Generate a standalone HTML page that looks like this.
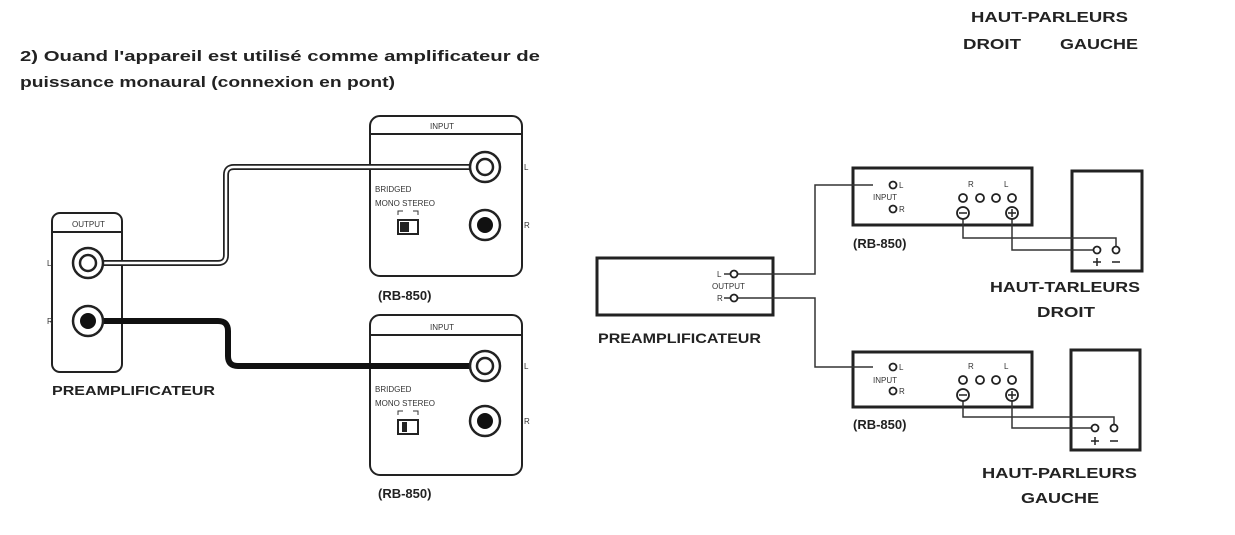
<!DOCTYPE html>
<html><head><meta charset="utf-8"><style>
html,body{margin:0;padding:0;background:#fff;}
svg{display:block;font-family:"Liberation Sans",sans-serif;}
.b{font-weight:bold;fill:#222;}
.s{font-size:8px;fill:#333;}
</style></head><body>
<svg width="1235" height="535" viewBox="0 0 1235 535" xmlns="http://www.w3.org/2000/svg">
<rect width="1235" height="535" fill="#fff"/>
<!-- heading -->
<text class="b" x="20" y="61" font-size="15" textLength="520" lengthAdjust="spacingAndGlyphs">2) Ouand l'appareil est utilisé  comme  amplificateur  de</text>
<text class="b" x="20" y="87" font-size="15" textLength="375" lengthAdjust="spacingAndGlyphs">puissance monaural (connexion en pont)</text>
<text class="b" x="971" y="22" font-size="15" textLength="157" lengthAdjust="spacingAndGlyphs">HAUT-PARLEURS</text>
<text class="b" x="963" y="49" font-size="15" textLength="58" lengthAdjust="spacingAndGlyphs">DROIT</text>
<text class="b" x="1060" y="49" font-size="15" textLength="78" lengthAdjust="spacingAndGlyphs">GAUCHE</text>

<g fill="none" stroke="#222" stroke-width="2">
<!-- left preamp -->
<rect x="52" y="213" width="70" height="159" rx="8"/>
<line x1="52" y1="232" x2="122" y2="232"/>
<!-- amp1 -->
<rect x="370" y="116" width="152" height="160" rx="10"/>
<line x1="370" y1="134" x2="522" y2="134"/>
<!-- amp2 -->
<rect x="370" y="315" width="152" height="160" rx="10"/>
<line x1="370" y1="335" x2="522" y2="335"/>
</g>
<!-- white cable -->
<path d="M88 263 H218 Q226 263 226 255 V175 Q226 167 234 167 H485" fill="none" stroke="#222" stroke-width="6"/>
<path d="M88 263 H218 Q226 263 226 255 V175 Q226 167 234 167 H485" fill="none" stroke="#fff" stroke-width="2.5"/>
<!-- black cable -->
<path d="M88 321 H218 Q228 321 228 331 V356 Q228 366 238 366 H485" fill="none" stroke="#111" stroke-width="6"/>
<!-- jacks -->
<g stroke="#222" stroke-width="2.5" fill="#fff">
<circle cx="88" cy="263" r="15"/><circle cx="88" cy="263" r="8"/>
<circle cx="88" cy="321" r="15"/>
<circle cx="485" cy="167" r="15"/><circle cx="485" cy="167" r="8"/>
<circle cx="485" cy="225" r="15"/>
<circle cx="485" cy="366" r="15"/><circle cx="485" cy="366" r="8"/>
<circle cx="485" cy="421" r="15"/>
</g>
<circle cx="88" cy="321" r="8" fill="#111"/>
<circle cx="485" cy="225" r="8" fill="#111"/>
<circle cx="485" cy="421" r="8" fill="#111"/>
<!-- switches -->
<rect x="398" y="220" width="20" height="14" fill="#fff" stroke="#222" stroke-width="2"/>
<rect x="400" y="222" width="9" height="10" fill="#222"/>
<rect x="398" y="420" width="20" height="14" fill="#fff" stroke="#222" stroke-width="2"/>
<rect x="402" y="422" width="5" height="10" fill="#222"/>
<path d="M398 215 v-4 h5 M418 215 v-4 h-5 M398 415 v-4 h5 M418 415 v-4 h-5" stroke="#333" fill="none"/>
<text class="s" x="72" y="227">OUTPUT</text>
<text class="s" x="47" y="266">L</text><text class="s" x="47" y="324">R</text>
<text class="s" x="430" y="129">INPUT</text>
<text class="s" x="430" y="330">INPUT</text>
<text class="s" x="375" y="192">BRIDGED</text>
<text class="s" x="375" y="206">MONO  STEREO</text>
<text class="s" x="375" y="392">BRIDGED</text>
<text class="s" x="375" y="406">MONO  STEREO</text>
<text class="s" x="524" y="170">L</text><text class="s" x="524" y="228">R</text>
<text class="s" x="524" y="369">L</text><text class="s" x="524" y="424">R</text>
<text class="b" x="378" y="300" font-size="13">(RB-850)</text>
<text class="b" x="378" y="498" font-size="13">(RB-850)</text>
<text class="b" x="52" y="395" font-size="13" textLength="163" lengthAdjust="spacingAndGlyphs">PREAMPLIFICATEUR</text>

<!-- right diagram -->
<g fill="none" stroke="#222" stroke-width="3">
<rect x="597" y="258" width="176" height="57"/>
<rect x="853" y="168" width="179" height="57"/>
<rect x="853" y="352" width="179" height="55"/>
<rect x="1072" y="171" width="70" height="100"/>
<rect x="1071" y="350" width="69" height="100"/>
</g>
<g fill="none" stroke="#333" stroke-width="1.5">
<path d="M724 274 H815 V185 H873"/>
<path d="M724 298 H815 V367 H873"/>
<path d="M963 213 V238 H1116 V250"/>
<path d="M1012 213 V250 H1097"/>
<path d="M963 397 V417 H1114 V428"/>
<path d="M1012 397 V428 H1095"/>
</g>
<g fill="#fff" stroke="#222" stroke-width="1.8">
<circle cx="734" cy="274" r="3.5"/><circle cx="734" cy="298" r="3.5"/>
<circle cx="893" cy="185" r="3.5"/><circle cx="893" cy="209" r="3.5"/>
<circle cx="893" cy="367" r="3.5"/><circle cx="893" cy="391" r="3.5"/>
<circle cx="963" cy="198" r="4"/><circle cx="980" cy="198" r="4"/><circle cx="996" cy="198" r="4"/><circle cx="1012" cy="198" r="4"/>
<circle cx="963" cy="213" r="6"/><circle cx="1012" cy="213" r="6"/>
<circle cx="963" cy="380" r="4"/><circle cx="980" cy="380" r="4"/><circle cx="996" cy="380" r="4"/><circle cx="1012" cy="380" r="4"/>
<circle cx="963" cy="395" r="6"/><circle cx="1012" cy="395" r="6"/>
<circle cx="1097" cy="250" r="3.5"/><circle cx="1116" cy="250" r="3.5"/>
<circle cx="1095" cy="428" r="3.5"/><circle cx="1114" cy="428" r="3.5"/>
</g>
<g stroke="#222" stroke-width="1.5">
<path d="M959 213h8 M1008 213h8 M1012 209v8 M959 395h8 M1008 395h8 M1012 391v8"/>
<path d="M1093 262h8 M1097 258v8 M1112 262h8 M1091 441h8 M1095 437v8 M1110 441h8"/>
</g>
<text class="s" x="717" y="277">L</text><text class="s" x="717" y="301">R</text>
<text class="s" x="712" y="289">OUTPUT</text>
<text class="s" x="899" y="188">L</text><text class="s" x="899" y="212">R</text>
<text class="s" x="873" y="200">INPUT</text>
<text class="s" x="899" y="370">L</text><text class="s" x="899" y="394">R</text>
<text class="s" x="873" y="383">INPUT</text>
<text class="s" x="968" y="187">R</text><text class="s" x="1004" y="187">L</text>
<text class="s" x="968" y="369">R</text><text class="s" x="1004" y="369">L</text>
<text class="b" x="853" y="248" font-size="13">(RB-850)</text>
<text class="b" x="853" y="429" font-size="13">(RB-850)</text>
<text class="b" x="598" y="343" font-size="14" textLength="163" lengthAdjust="spacingAndGlyphs">PREAMPLIFICATEUR</text>
<text class="b" x="990" y="292" font-size="15" textLength="150" lengthAdjust="spacingAndGlyphs">HAUT-TARLEURS</text>
<text class="b" x="1037" y="317" font-size="15" textLength="58" lengthAdjust="spacingAndGlyphs">DROIT</text>
<text class="b" x="982" y="478" font-size="15" textLength="155" lengthAdjust="spacingAndGlyphs">HAUT-PARLEURS</text>
<text class="b" x="1021" y="503" font-size="15" textLength="78" lengthAdjust="spacingAndGlyphs">GAUCHE</text>
</svg>
</body></html>
